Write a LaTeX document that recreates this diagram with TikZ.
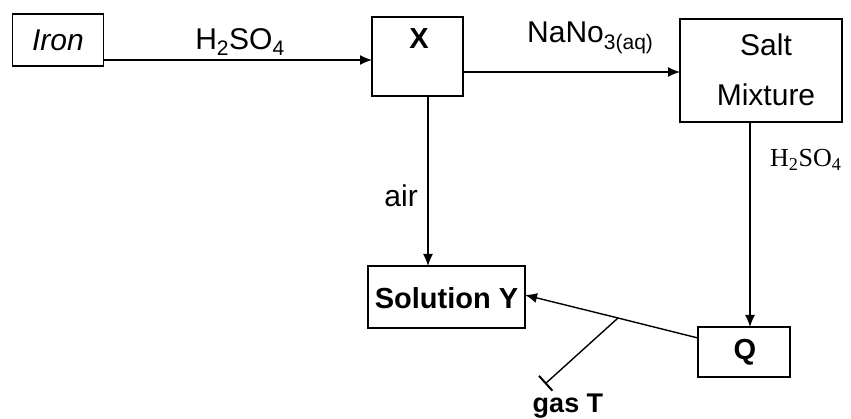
\documentclass[tikz,border=0pt]{standalone}
\usepackage{fontspec}
\setmainfont{Liberation Sans}
\newfontfamily\serifont{Liberation Serif}
\usetikzlibrary{arrows.meta}
\begin{document}
\begin{tikzpicture}[x=1pt,y=-1pt,
  box/.style={draw,line width=1.8pt,inner sep=0pt,outer sep=0pt},
  conn/.style={line width=1.4pt,-{Latex[length=12pt,width=10pt]}},
  lbl/.style={font=\fontsize{30}{32}\selectfont,inner sep=0pt},
  blbl/.style={font=\fontsize{29}{32}\selectfont\bfseries,inner sep=0pt}]
\useasboundingbox (0,0) rectangle (851,419);
% boxes
\node[box,minimum width=91pt,minimum height=52pt] (iron) at (58,40) {};
\node[lbl,font=\fontsize{30}{32}\selectfont\itshape] at (58,40) {Iron};
\node[box,minimum width=91pt,minimum height=79pt] (X) at (417.5,56.5) {};
\node[blbl] at (419,39) {X};
\node[box,minimum width=162pt,minimum height=103pt] (salt) at (761,70.5) {};
\node[lbl] at (766,45) {Salt};
\node[lbl] at (766,95) {Mixture};
\node[box,minimum width=157pt,minimum height=62pt] (soly) at (446.5,297) {};
\node[blbl] at (446.5,298) {Solution Y};
\node[box,minimum width=92pt,minimum height=50pt] (Q) at (744,352) {};
\node[blbl] at (745,352) {Q};
% connectors
\draw[conn] (iron.east |- 0,60) -- (X.west |- 0,60);
\node[lbl] at (240,42) {H\textsubscript{2}SO\textsubscript{4}};
\draw[conn] (X.east |- 0,72) -- (salt.west |- 0,72);
\node[lbl,anchor=west] at (527,38) {NaNo\textsubscript{3(aq)}};
\draw[conn] (428,96) coordinate (xb) -- (xb |- soly.north);
\node[lbl,anchor=east] at (418,196) {air};
\draw[conn] (750,122) coordinate (sb) -- (sb |- Q.north);
\node[inner sep=0pt,anchor=west,font=\serifont\fontsize{26}{28}\selectfont] at (770,160) {H\textsubscript{2}SO\textsubscript{4}};
\coordinate (j) at (618,318);
\coordinate (gT) at (545,384);
\draw[line width=1.4pt] (Q.west |- 0,338) -- (j);
\draw[conn] (j) -- (soly.east |- 0,295);
\draw[line width=1.4pt,-{Bar[width=20pt,line width=2pt]}] (j) -- (gT);
\node[blbl,font=\fontsize{27}{30}\selectfont\bfseries] at (568,406) {gas T};
\end{tikzpicture}
\end{document}
